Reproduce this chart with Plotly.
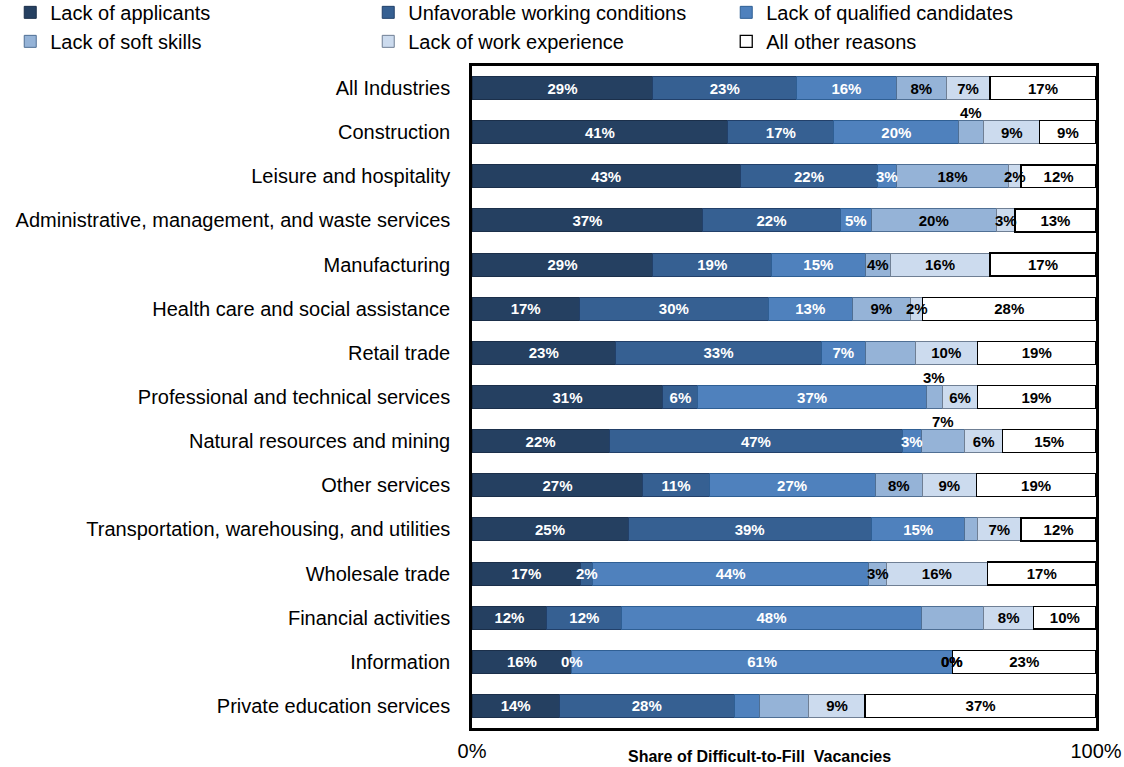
import plotly.graph_objects as go

categories = [
    "All Industries", "Construction", "Leisure and hospitality",
    "Administrative, management, and waste services", "Manufacturing",
    "Health care and social assistance", "Retail trade",
    "Professional and technical services", "Natural resources and mining",
    "Other services", "Transportation, warehousing, and utilities",
    "Wholesale trade", "Financial activities", "Information",
    "Private education services",
]

series_names = [
    "Lack of applicants", "Unfavorable working conditions",
    "Lack of qualified candidates", "Lack of soft skills",
    "Lack of work experience", "All other reasons",
]

lack_of_applicants = [29, 41, 43, 37, 29, 17.2, 23, 30.6, 22, 27.4, 25, 17.4, 12, 16, 14]
unfavorable_conditions = [23, 17, 22, 22, 19, 30.3, 33, 5.6, 47, 10.6, 39, 1.9, 12, 0, 28]
lack_of_qualified = [16, 20, 3, 5, 15, 13.4, 7, 36.6, 3, 26.6, 15, 44.3, 48, 61, 4]
lack_of_soft_skills = [8, 4, 18, 20, 4, 9.4, 8, 2.6, 7, 7.6, 2, 2.8, 10, 0, 8]
lack_of_experience = [7, 9, 2, 3, 16, 1.9, 10, 5.6, 6, 8.6, 7, 16.2, 8, 0, 9]
all_other = [17, 9, 12, 13, 17, 27.8, 19, 18.9, 15, 19.2, 12, 17.4, 10, 23, 37]

x_tick_values = [0, 100]
x_tick_labels = ["0%", "100%"]

series_values = [lack_of_applicants, unfavorable_conditions, lack_of_qualified,
                 lack_of_soft_skills, lack_of_experience, all_other]

colors = ["#254061", "#366092", "#4F81BD", "#95B3D7", "#CCDBEE", "#FFFFFF"]
text_colors = ["white", "white", "white", "black", "black", "black"]
line_colors = ["#1B2F4A", "#22406A", "#2F5F94", "#4F6F94", "#6F7F94", "#000000"]

# label placement styles (series index, category)
labels_above = {(3, "Construction"), (3, "Professional and technical services"),
                (3, "Natural resources and mining")}
labels_hidden = {(3, "Retail trade"), (3, "Transportation, warehousing, and utilities"),
                 (3, "Financial activities"), (2, "Private education services"),
                 (3, "Private education services")}

FONT = "Liberation Sans, Arial, sans-serif"
LABEL_SIZE = 15

fig = go.Figure()
annotations = []
for s, (name, vals) in enumerate(zip(series_names, series_values)):
    texts = []
    for i, (cat, v) in enumerate(zip(categories, vals)):
        left = sum(series_values[k][i] for k in range(s))
        lab = f"{v:.0f}%"
        if (s, cat) in labels_hidden:
            texts.append("")
        elif (s, cat) in labels_above:
            texts.append("")
            annotations.append(dict(x=left + v / 2, y=cat, xref="x", yref="y",
                                    text=f"<b>{lab}</b>", showarrow=False, yshift=20,
                                    font=dict(family=FONT, size=LABEL_SIZE, color="black")))
        elif v < 4.5:
            # narrow segments: label drawn on top so it may overflow the segment
            texts.append("")
            annotations.append(dict(x=left + v / 2, y=cat, xref="x", yref="y",
                                    text=f"<b>{lab}</b>", showarrow=False,
                                    font=dict(family=FONT, size=LABEL_SIZE, color=text_colors[s])))
        else:
            texts.append(lab)
    fig.add_trace(go.Bar(
        name=name, y=categories, x=vals, orientation="h",
        marker=dict(color=colors[s], line=dict(color=line_colors[s], width=1.3 if s == 5 else 1)),
        text=texts, texttemplate="%{text}", textposition="inside",
        insidetextanchor="middle", textangle=0,
        textfont=dict(family=FONT, size=LABEL_SIZE, color=text_colors[s], weight="bold"),
        hoverinfo="skip",
    ))

annotations.append(dict(x=0.4615, y=-0.0435, xref="paper", yref="paper",
                        text="<b>Share of Difficult-to-Fill  Vacancies</b>", showarrow=False,
                        xanchor="center", yanchor="middle",
                        font=dict(family=FONT, size=16, color="black")))

fig.update_layout(
    width=1124, height=767,
    margin=dict(l=472, r=28, t=66, b=39, pad=0, autoexpand=False),
    barmode="stack", bargap=0.48,
    plot_bgcolor="white", paper_bgcolor="white",
    font=dict(family=FONT, size=20, color="black"),
    uniformtext=dict(minsize=LABEL_SIZE, mode="show"),
    showlegend=True,
    legend=dict(orientation="h", x=-0.74, xanchor="left", y=1.1105, yanchor="top",
                traceorder="normal", entrywidth=313, entrywidthmode="pixels",
                font=dict(family=FONT, size=20), itemwidth=30,
                bgcolor="rgba(0,0,0,0)"),
    annotations=annotations,
)
fig.update_xaxes(range=[0, 100], tickvals=x_tick_values, ticktext=x_tick_labels,
                 showgrid=False, zeroline=False, showline=True, mirror=True,
                 linecolor="black", linewidth=2.5, ticks="", ticklabelstandoff=3,
                 tickfont=dict(family=FONT, size=20), automargin=False)
fig.update_yaxes(categoryorder="array", categoryarray=categories, autorange="reversed",
                 showgrid=False, zeroline=False, showline=True, mirror=True,
                 linecolor="black", linewidth=2.5, ticks="", ticklabelstandoff=15,
                 tickfont=dict(family=FONT, size=20), automargin=False)

fig.write_html("out.html", config={"displayModeBar": False},
               post_script="document.body.style.margin='0';")
